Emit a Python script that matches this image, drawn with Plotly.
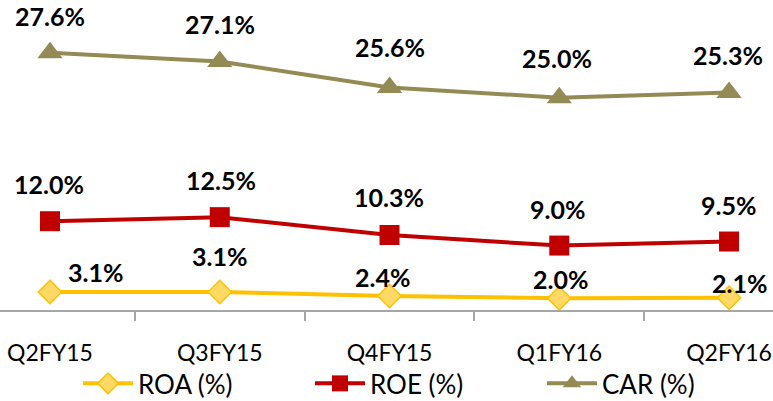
import plotly.graph_objects as go

categories = ["Q2FY15", "Q3FY15", "Q4FY15", "Q1FY16", "Q2FY16"]
roa = [3.1, 3.1, 2.4, 2.0, 2.1]
roe = [12.0, 12.5, 10.3, 9.0, 9.5]
car = [27.6, 27.1, 25.6, 25.0, 25.3]

# label placement offsets (pixels) relative to each point
car_shift = [(0, 37), (0, 37), (0, 40), (-2, 40), (-1, 38)]
roe_shift = [(-1, 37), (1, 37), (-1, 38), (-2, 37), (-1, 37)]
roa_shift = [(45, 20), (0, 36), (-7, 19), (1, 19), (10, 15)]

FONT = "Lato"
fig = go.Figure()

fig.add_trace(go.Scatter(
    x=categories, y=roa, name="ROA (%)", mode="lines+markers", yaxis="y",
    line=dict(color="#FFC000", width=4),
    marker=dict(symbol="diamond", size=18, color="#FFD966", line=dict(color="#FFC000", width=1.5)),
))
fig.add_trace(go.Scatter(
    x=categories, y=roe, name="ROE (%)", mode="lines+markers", yaxis="y2",
    line=dict(color="#C00000", width=4),
    marker=dict(symbol="square", size=20, color="#C00000"),
))
fig.add_trace(go.Scatter(
    x=categories, y=car, name="CAR (%)", mode="lines+markers", yaxis="y3",
    line=dict(color="#948A54", width=4),
    marker=dict(symbol="triangle-up", size=22, color="#948A54"),
))

annotations = []
for vals, shifts, yref in [(car, car_shift, "y3"), (roe, roe_shift, "y2"), (roa, roa_shift, "y")]:
    for c, v, (dx, dy) in zip(categories, vals, shifts):
        annotations.append(dict(
            x=c, y=v, xref="x", yref=yref, text=f"{v:.1f}%", showarrow=False,
            xshift=dx, yshift=dy, yanchor="middle", xanchor="center",
            font=dict(family=FONT, size=25, color="#000000", weight="bold"),
        ))

yhidden = dict(visible=False, showgrid=False, zeroline=False, fixedrange=True)
fig.update_layout(
    width=773, height=401,
    margin=dict(l=0, r=0, t=0, b=91, autoexpand=False),
    paper_bgcolor="white", plot_bgcolor="white",
    showlegend=True,
    legend=dict(orientation="h", x=78 / 773, xanchor="left", y=-0.237, yanchor="middle",
                bgcolor="rgba(0,0,0,0)",
                font=dict(family=FONT, size=26, color="#000000"),
                itemwidth=50, entrywidth=167, tracegroupgap=0),
    xaxis=dict(type="category", range=[-0.2946, 4.259], showline=True, linecolor="#A6A6A6",
               linewidth=1.5, ticks="outside", tickson="boundaries", ticklen=9,
               tickcolor="#A6A6A6", tickwidth=1.5, showgrid=False, zeroline=False,
               automargin=False,
               tickfont=dict(family=FONT, size=23, color="#000000"), ticklabelstandoff=22),
    yaxis=dict(range=[-0.04, 53.96], **yhidden),
    yaxis2=dict(range=[1.06, 39.26], overlaying="y", **yhidden),
    yaxis3=dict(range=[12.71, 30.66], overlaying="y", **yhidden),
    annotations=annotations,
)

fig.write_html("out.html", config={"displayModeBar": False},
               post_script="document.body.style.margin='0px';")
